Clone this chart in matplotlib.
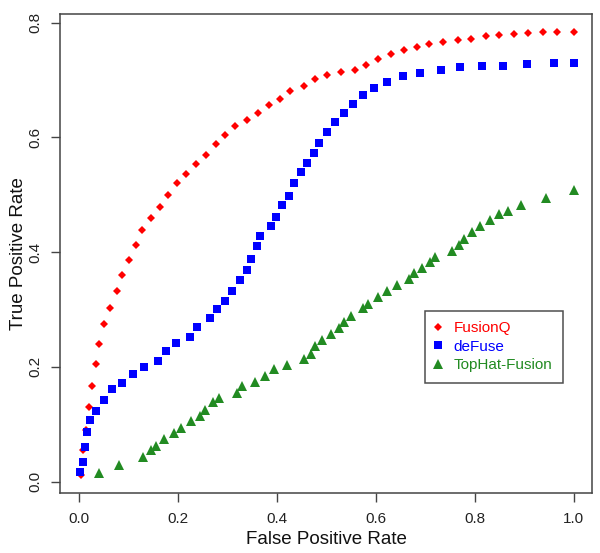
import matplotlib
matplotlib.use("Agg")
import matplotlib.pyplot as plt

plt.rcParams['font.family'] = ['Liberation Sans', 'DejaVu Sans']

# FusionQ
fq_x = [0.004, 0.008, 0.014, 0.021, 0.027, 0.034, 0.041, 0.051, 0.063, 0.076,
        0.087, 0.101, 0.115, 0.128, 0.146, 0.164, 0.179, 0.198, 0.217, 0.237,
        0.256, 0.276, 0.296, 0.316, 0.340, 0.362, 0.384, 0.407, 0.427, 0.454,
        0.477, 0.502, 0.529, 0.557, 0.581, 0.605, 0.631, 0.656, 0.683, 0.708,
        0.736, 0.766, 0.793, 0.822, 0.849, 0.880, 0.907, 0.938, 0.966, 1.0]
fq_y = [0.012, 0.056, 0.090, 0.130, 0.167, 0.205, 0.240, 0.274, 0.302, 0.332,
        0.361, 0.386, 0.413, 0.439, 0.459, 0.479, 0.500, 0.520, 0.536, 0.553,
        0.570, 0.589, 0.604, 0.620, 0.631, 0.642, 0.656, 0.666, 0.681, 0.690,
        0.701, 0.709, 0.714, 0.718, 0.726, 0.737, 0.745, 0.752, 0.757, 0.763,
        0.766, 0.769, 0.772, 0.776, 0.779, 0.781, 0.782, 0.783, 0.783, 0.784]

# deFuse
df_x = [0.002, 0.008, 0.012, 0.017, 0.022, 0.034, 0.050, 0.066, 0.087, 0.110,
        0.131, 0.160, 0.175, 0.197, 0.225, 0.239, 0.264, 0.278, 0.296, 0.310,
        0.325, 0.339, 0.347, 0.359, 0.366, 0.388, 0.398, 0.410, 0.425, 0.435,
        0.449, 0.461, 0.475, 0.486, 0.502, 0.518, 0.536, 0.553, 0.574, 0.597,
        0.623, 0.655, 0.690, 0.732, 0.771, 0.815, 0.857, 0.905, 0.960, 1.0]
df_y = [0.017, 0.034, 0.061, 0.087, 0.107, 0.124, 0.142, 0.161, 0.172, 0.187,
        0.200, 0.210, 0.228, 0.242, 0.253, 0.270, 0.285, 0.301, 0.315, 0.332,
        0.351, 0.369, 0.388, 0.411, 0.429, 0.446, 0.462, 0.483, 0.498, 0.520,
        0.539, 0.556, 0.573, 0.590, 0.610, 0.626, 0.642, 0.659, 0.673, 0.686,
        0.697, 0.707, 0.713, 0.718, 0.723, 0.724, 0.725, 0.728, 0.729, 0.730]

# TopHat-Fusion
th_x = [0.040, 0.081, 0.129, 0.146, 0.156, 0.172, 0.193, 0.207, 0.227, 0.245,
        0.255, 0.270, 0.282, 0.319, 0.329, 0.355, 0.375, 0.394, 0.420, 0.455,
        0.468, 0.478, 0.492, 0.509, 0.526, 0.536, 0.549, 0.574, 0.584, 0.604,
        0.623, 0.642, 0.668, 0.678, 0.693, 0.710, 0.720, 0.753, 0.769, 0.778,
        0.794, 0.810, 0.830, 0.849, 0.868, 0.893, 0.944, 1.0]
th_y = [0.016, 0.029, 0.043, 0.055, 0.063, 0.074, 0.084, 0.094, 0.106, 0.115,
        0.125, 0.139, 0.146, 0.154, 0.166, 0.174, 0.184, 0.196, 0.204, 0.214,
        0.223, 0.236, 0.247, 0.258, 0.267, 0.279, 0.289, 0.302, 0.309, 0.322,
        0.332, 0.343, 0.353, 0.363, 0.372, 0.383, 0.391, 0.402, 0.412, 0.423,
        0.435, 0.445, 0.456, 0.466, 0.472, 0.483, 0.495, 0.509]

x_ticks = [0.0, 0.2, 0.4, 0.6, 0.8, 1.0]
y_ticks = [0.0, 0.2, 0.4, 0.6, 0.8]

fig = plt.figure(figsize=(6, 5.53), dpi=100)
ax = fig.add_axes([0.1, 0.1085, 0.8867, 0.8662])

ax.plot(fq_x, fq_y, linestyle='none', marker='D', color='#ff0000', markersize=4.0,
        markeredgewidth=0, label='FusionQ')
ax.plot(df_x, df_y, linestyle='none', marker='s', color='#0000ff', markersize=5.3,
        markeredgewidth=0, label='deFuse')
ax.plot(th_x, th_y, linestyle='none', marker='^', color='#228b22', markersize=6.6,
        markeredgewidth=0, label='TopHat-Fusion')

ax.set_xlim(-0.0384, 1.037)
ax.set_ylim(-0.0197, 0.815)

ax.set_xticks(x_ticks)
ax.set_yticks(y_ticks)
ax.set_xticklabels(['%.1f' % v for v in x_ticks])
ax.set_yticklabels(['%.1f' % v for v in y_ticks], rotation=90, va='center')
ax.tick_params(direction='out', length=6.5, width=1, color='#444444',
               labelsize=11, labelcolor='#222222')
ax.tick_params(axis='x', pad=7)
ax.tick_params(axis='y', pad=6.5)

for s in ax.spines.values():
    s.set_color('#444444')
    s.set_linewidth(1.1)

ax.set_xlabel('False Positive Rate', fontsize=13.5, labelpad=3.5, color='#111111')
ax.set_ylabel('True Positive Rate', fontsize=13.5, labelpad=1, color='#111111')

leg = ax.legend(loc='upper left', bbox_to_anchor=(0.6855, 0.3806), fontsize=11,
                frameon=True, fancybox=False, handlelength=0.4, handletextpad=0.8,
                labelspacing=0.29, borderpad=0.7, borderaxespad=0)
leg.get_frame().set_edgecolor('#222222')
leg.get_frame().set_linewidth(1.1)
for txt, c in zip(leg.get_texts(), ['#ff0000', '#0000ff', '#228b22']):
    txt.set_color(c)

fig.savefig('out.png', dpi=100)
